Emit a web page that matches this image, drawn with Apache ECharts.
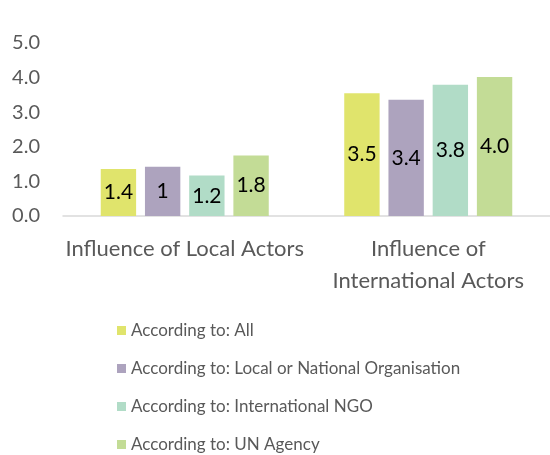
<!DOCTYPE html>
<html>
<head>
<meta charset="utf-8">
<script src="https://cdn.jsdelivr.net/npm/echarts@6/dist/echarts.min.js"></script>
<style>
  html, body { margin: 0; padding: 0; background: #fff; }
  #chart { width: 550px; height: 455px; }
</style>
</head>
<body>
<div id="chart"></div>
<script>
// data
const categories = ['Influence of Local Actors', 'Influence of\nInternational Actors'];
const seriesNames = [
  'According to: All',
  'According to: Local or National Organisation',
  'According to: International NGO',
  'According to: UN Agency'
];
const allValues = [1.36, 3.55];
const localValues = [1.42, 3.36];
const ingoValues = [1.17, 3.79];
const unValues = [1.75, 4.02];
// labels as printed on the bars
const allLabels = ['1.4', '3.5'];
const localLabels = ['1', '3.4'];
const ingoLabels = ['1.2', '3.8'];
const unLabels = ['1.8', '4.0'];
const yTicks = [0, 1, 2, 3, 4, 5];

const colors = ['#e0e46c', '#ada3be', '#b1dcc7', '#c3dc96'];
const fontFamily = 'Lato, "Open Sans", sans-serif';

const valueSets = [allValues, localValues, ingoValues, unValues];
const labelSets = [allLabels, localLabels, ingoLabels, unLabels];

const chart = echarts.init(document.getElementById('chart'));

const series = seriesNames.map((name, i) => ({
  name: name,
  type: 'bar',
  data: valueSets[i],
  barGap: '25%',
  barCategoryGap: '31%',
  itemStyle: { color: colors[i] },
  label: {
    show: true,
    position: 'inside',
    color: '#000',
    fontSize: 21,
    fontFamily: fontFamily,
    formatter: p => labelSets[i][p.dataIndex]
  }
}));

chart.setOption({
  animation: false,
  textStyle: { fontFamily: fontFamily },
  grid: { left: 63, top: 43, width: 490, bottom: 239 },
  legend: {
    orient: 'vertical',
    left: 112,
    top: 317,
    height: 170,
    itemWidth: 9,
    itemHeight: 9,
    itemGap: 21,
    icon: 'rect',
    textStyle: { color: '#595959', fontSize: 17, fontFamily: fontFamily },
    data: seriesNames
  },
  xAxis: {
    type: 'category',
    data: categories,
    axisLine: { lineStyle: { color: '#d9d9d9', width: 1.5 } },
    axisTick: { show: false },
    axisLabel: {
      interval: 0,
      color: '#595959',
      fontSize: 22,
      margin: 17,
      lineHeight: 32,
      fontFamily: fontFamily
    }
  },
  yAxis: {
    type: 'value',
    min: yTicks[0],
    max: yTicks[yTicks.length - 1],
    interval: 1,
    splitLine: { show: false },
    axisLine: { show: false },
    axisTick: { show: false },
    axisLabel: {
      color: '#595959',
      fontSize: 20,
      margin: 23,
      fontFamily: fontFamily,
      formatter: v => v.toFixed(1)
    }
  },
  series: series
});
</script>
</body>
</html>
